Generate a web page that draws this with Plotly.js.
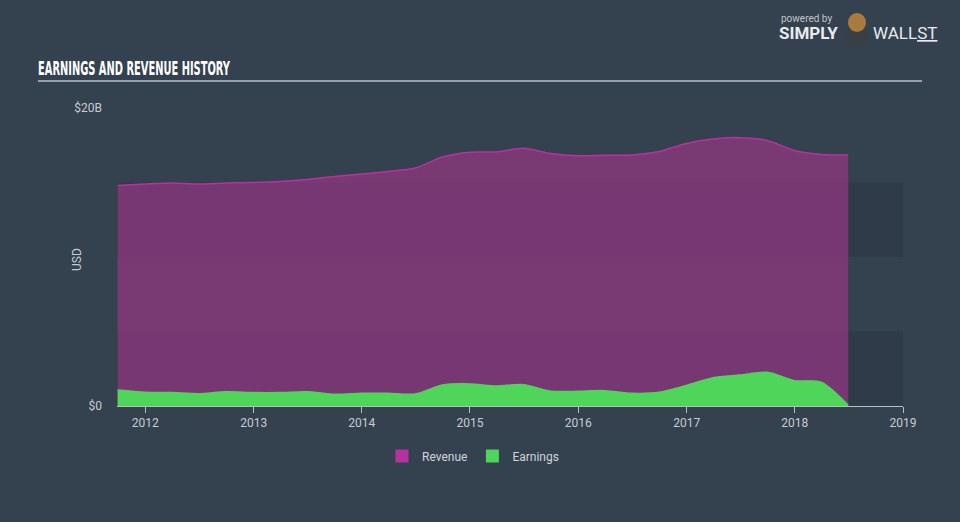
<!DOCTYPE html>
<html>
<head>
<meta charset="utf-8">
<script src="https://cdn.plot.ly/plotly-3.0.1.min.js"></script>
<style>
html,body{margin:0;padding:0;background:#34414f;}
#chart{width:960px;height:522px;}
</style>
</head>
<body>
<div id="chart"></div>
<script>
const dates = ["2011-09-30","2011-12-31","2012-03-31","2012-06-30","2012-09-30","2012-12-31","2013-03-31","2013-06-30","2013-09-30","2013-12-31","2014-03-31","2014-06-30","2014-09-30","2014-12-31","2015-03-31","2015-06-30","2015-09-30","2015-12-31","2016-03-31","2016-06-30","2016-09-30","2016-12-31","2017-03-31","2017-06-30","2017-09-30","2017-12-31","2018-03-31","2018-06-30"];
const revenue = [14.80,14.90,14.97,14.90,14.97,15.00,15.07,15.20,15.40,15.57,15.74,15.97,16.71,17.03,17.05,17.30,16.95,16.80,16.83,16.85,17.08,17.62,17.92,18.01,17.82,17.15,16.88,16.85];
const earnings = [1.07,0.92,0.90,0.83,0.96,0.90,0.90,0.96,0.79,0.85,0.85,0.80,1.41,1.48,1.34,1.43,0.99,0.99,1.03,0.85,0.92,1.38,1.90,2.08,2.26,1.70,1.60,0.05];
const seriesNames = ["Revenue","Earnings"];
const seriesColors = ["#b5339f","#4fd65a"];
const yTickVals = [0,20];
const yTickText = ["$0","$20B"];

const traces = [
  {x: dates, y: revenue, name: seriesNames[0], type: "scatter", mode: "lines", showlegend: false,
   fill: "tozeroy", fillcolor: "rgba(169,53,141,0.6)",
   line: {color: seriesColors[0], width: 1.5, shape: "spline", smoothing: 0.8}, hoverinfo: "skip"},
  {x: dates, y: earnings, name: seriesNames[1], type: "scatter", mode: "lines", showlegend: false,
   fill: "tozeroy", fillcolor: seriesColors[1],
   line: {color: seriesColors[1], width: 1.5, shape: "spline", smoothing: 0.8}, hoverinfo: "skip"},
  {x: [null], y: [null], name: seriesNames[0], type: "scatter", mode: "markers",
   marker: {symbol: "square", size: 13, color: seriesColors[0]}},
  {x: [null], y: [null], name: seriesNames[1], type: "scatter", mode: "markers",
   marker: {symbol: "square", size: 13, color: seriesColors[1]}}
];

const P = (px) => (px - 117) / 786;
const Q = (py) => (406 - py) / 298;

const layout = {
  width: 960, height: 522,
  paper_bgcolor: "#34414f", plot_bgcolor: "#34414f",
  margin: {l: 117, r: 57, t: 108, b: 116},
  font: {family: "Roboto, 'Open Sans', sans-serif", color: "#c8ccd2", size: 12},
  showlegend: true,
  legend: {orientation: "h", x: P(473), xanchor: "center", y: Q(456), yanchor: "middle",
           font: {size: 12, color: "#d0d4da"}, bgcolor: "rgba(0,0,0,0)", itemwidth: 30, tracegroupgap: 0},
  xaxis: {type: "date", range: ["2011-09-28", "2019-01-01"], showgrid: false, zeroline: false,
          showline: true, linecolor: "#b8bec6", linewidth: 1,
          ticks: "outside", ticklen: 6, tickcolor: "#b8bec6",
          dtick: "M12", tick0: "2012-01-01", tickformat: "%Y",
          tickfont: {size: 12, color: "#c8ccd2"}},
  yaxis: {range: [0, 20], showgrid: false, zeroline: false, showline: false,
          tickvals: yTickVals, ticktext: yTickText, ticks: "", ticklabelstandoff: 14,
          tickfont: {size: 12, color: "#c8ccd2"}},
  shapes: [
    {type: "rect", xref: "paper", yref: "y", x0: 0, x1: 1, y0: 0, y1: 5, fillcolor: "#2f3b49", line: {width: 0}, layer: "below"},
    {type: "rect", xref: "paper", yref: "y", x0: 0, x1: 1, y0: 10, y1: 15, fillcolor: "#2f3b49", line: {width: 0}, layer: "below"},
    {type: "line", xref: "paper", yref: "paper", x0: P(38), x1: P(922), y0: Q(81), y1: Q(81), line: {color: "#9aa0a8", width: 2}},
    {type: "circle", xref: "paper", yref: "paper", x0: P(845), x1: P(869), y0: Q(48), y1: Q(24), fillcolor: "#3a3f46", line: {width: 0}},
    {type: "circle", xref: "paper", yref: "paper", x0: P(848), x1: P(866), y0: Q(32), y1: Q(13), fillcolor: "#a87a3c", line: {width: 0}}
  ],
  annotations: [
    {text: "<b>EARNINGS AND REVENUE HISTORY</b>", xref: "paper", yref: "paper", x: P(38), y: Q(68),
     xanchor: "left", yanchor: "middle", showarrow: false,
     font: {family: "'DejaVu Sans Condensed', 'Liberation Sans Narrow', sans-serif", size: 19, color: "#ffffff"}},
    {text: "USD", xref: "paper", yref: "paper", x: P(77), y: Q(260), xanchor: "center", yanchor: "middle",
     textangle: -90, showarrow: false, font: {size: 12, color: "#c8ccd2"}},
    {text: "powered by", xref: "paper", yref: "paper", x: P(806), y: Q(18), xanchor: "center", yanchor: "middle",
     showarrow: false, font: {size: 10, color: "#c0c4ca"}},
    {text: "<b>SIMPLY</b>", xref: "paper", yref: "paper", x: P(808), y: Q(33), xanchor: "center", yanchor: "middle",
     showarrow: false, font: {size: 17, color: "#e8eaee"}},
    {text: "WALL<u>ST</u>", xref: "paper", yref: "paper", x: P(871), y: Q(33), xanchor: "left", yanchor: "middle",
     showarrow: false, font: {size: 17, color: "#e8eaee"}}
  ]
};

Plotly.newPlot("chart", traces, layout, {displayModeBar: false, staticPlot: true}).then(function (gd) {
  const t = gd.querySelector('.annotation[data-index="0"] text');
  if (t) {
    t.setAttribute("textLength", "192");
    t.setAttribute("lengthAdjust", "spacingAndGlyphs");
    const r = t.getBoundingClientRect();
    const gr = gd.getBoundingClientRect();
    const dx = 38 - (r.left - gr.left);
    const x0 = parseFloat(t.getAttribute("x") || "0");
    t.setAttribute("x", String(x0 + dx));
  }
});
</script>
</body>
</html>
